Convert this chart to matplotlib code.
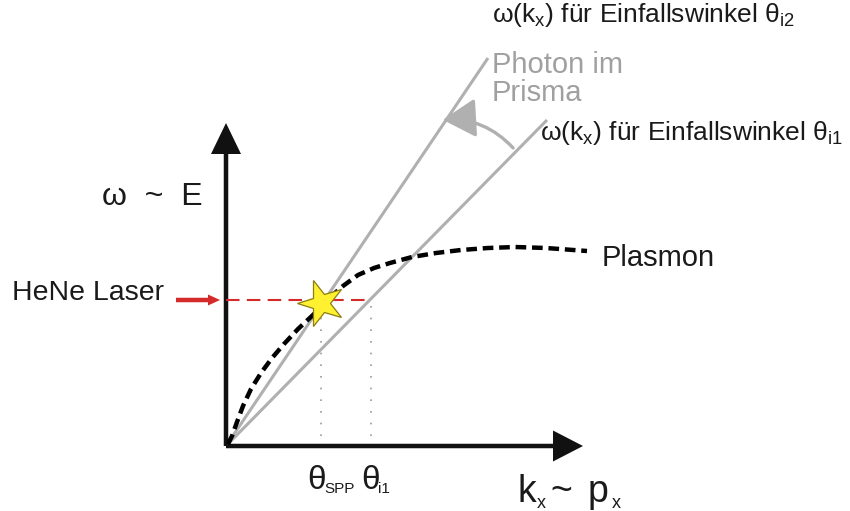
import matplotlib.pyplot as plt
import numpy as np
from matplotlib.markers import MarkerStyle
from matplotlib.patches import FancyArrowPatch
from matplotlib.transforms import Affine2D

plt.rcParams["font.family"] = ["Liberation Sans", "DejaVu Sans"]

# diagram coordinates: origin of the k_x / omega axes at (0, 0)
axis_x_end = 357
axis_y_end = 323

# photon lines in the prism (end points of the straight lines from the origin)
photon_i1_end = (321, 326)
photon_i2_end = (262, 388)

# HeNe laser energy level and where it meets the photon lines
hene_level = 146
hene_x = [0, 142]
resonance = (95, 143)
theta_spp_x = 95
theta_i1_x = 145
drop_bottom = 10

# plasmon dispersion
plasmon_k = [2, 6, 11, 17, 25, 35, 46, 58, 72, 87, 102, 117, 132, 148,
             164, 186, 210, 235, 262, 289, 320, 361]
plasmon_w = [2, 10, 24, 40, 57, 73, 88, 102, 117, 131, 147, 160, 171, 178,
             183, 189, 193, 196, 198, 199, 198, 195]

gray = "#b0b0b0"
ink = "#1a1a1a"
fig = plt.figure(figsize=(8.5, 5.11), dpi=100)
ax = fig.add_axes([0, 0, 1, 1])
ax.set_xlim(-226, 624)
ax.set_ylim(-65, 446)
ax.axis("off")

# photon lines
ax.plot([0, photon_i2_end[0]], [0, photon_i2_end[1]], color=gray, lw=2.2, solid_capstyle="butt")
ax.plot([0, photon_i1_end[0]], [0, photon_i1_end[1]], color=gray, lw=2.2, solid_capstyle="butt")

# plasmon
ax.plot(plasmon_k, plasmon_w, color="black", lw=3.2, linestyle=(0, (2.4, 1.3)), zorder=3)

# dotted drop lines
for xv in (theta_spp_x, theta_i1_x):
    ax.plot([xv, xv], [drop_bottom, hene_level - 6], color="#9a9a9a", lw=1.2,
            linestyle=(0, (1, 6)))

# laser line
ax.plot(hene_x, [hene_level, hene_level], color="#d42a2a", lw=1.5,
        linestyle=(0, (6.5, 3.5)), zorder=4)
ax.arrow(-50, hene_level, 44, 0, width=4.5, head_width=11, head_length=12,
         length_includes_head=True, color="#d42a2a", lw=0)

# resonance star
star = MarkerStyle("*", transform=Affine2D().rotate_deg(18))
ax.plot([resonance[0]], [resonance[1]], marker=star, markersize=35,
        markerfacecolor="#fff030", markeredgecolor="#8c7e10", markeredgewidth=0.9,
        zorder=5)

# axes
ax.arrow(0, 0, axis_x_end, 0, width=4.5, head_width=31, head_length=30,
         length_includes_head=True, color="#111111", lw=0, zorder=2)
ax.arrow(0, 0, 0, axis_y_end, width=4.5, head_width=30, head_length=31,
         length_includes_head=True, color="#111111", lw=0, zorder=2)

# rotation arrow from theta_i1 to theta_i2
arc = FancyArrowPatch((289, 296), (214, 326), connectionstyle="arc3,rad=0.25",
                      arrowstyle="-|>,head_length=0.85,head_width=0.5",
                      mutation_scale=24, color=gray, lw=2.4)
ax.add_patch(arc)

# labels
ax.text(266, 431, r"ω(k$_\mathregular{x}$) für Einfallswinkel θ$_\mathregular{i2}$",
        fontsize=19, ha="left", va="center", color=ink)
ax.text(266, 381, "Photon im", fontsize=21, ha="left", va="center", color="#a0a0a0")
ax.text(266, 353, "Prisma", fontsize=21, ha="left", va="center", color="#a0a0a0")
ax.text(314, 313, r"ω(k$_\mathregular{x}$) für Einfallswinkel θ$_\mathregular{i1}$",
        fontsize=19, ha="left", va="center", color=ink)
ax.text(-124, 249, "ω  ~  E", fontsize=23, ha="left", va="center", color=ink)
ax.text(-214, 153, "HeNe Laser", fontsize=20.5, ha="left", va="center", color=ink)
ax.text(376, 188, "Plasmon", fontsize=21, ha="left", va="center", color=ink)

ax.text(81, -34, "θ", fontsize=24, ha="left", va="center", color=ink)
ax.text(98, -43, "SPP", fontsize=11, ha="left", va="center", color=ink)
ax.text(135, -34, "θ", fontsize=24, ha="left", va="center", color=ink)
ax.text(152, -43, "i1", fontsize=11, ha="left", va="center", color=ink)

ax.text(292, -46, "k", fontsize=27, ha="left", va="center", color=ink)
ax.text(311, -57, "x", fontsize=13, ha="left", va="center", color=ink)
ax.text(324, -46, "~", fontsize=27, ha="left", va="center", color=ink)
ax.text(362, -46, "p", fontsize=27, ha="left", va="center", color=ink)
ax.text(386, -57, "x", fontsize=13, ha="left", va="center", color=ink)

fig.savefig("out.png", dpi=100)
